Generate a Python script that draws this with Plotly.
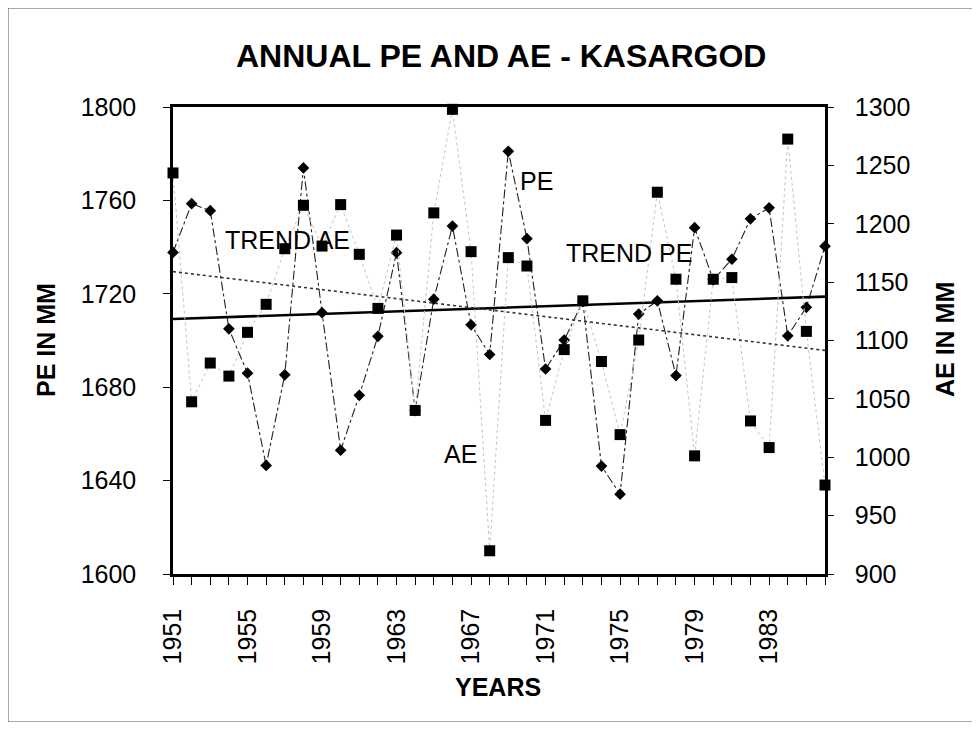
import plotly.graph_objects as go

years = list(range(1951, 1987))
pe = [1737.7, 1758.6, 1755.6, 1705.0, 1686.0, 1646.5, 1685.3, 1773.9, 1711.9, 1653.0,
      1676.5, 1701.8, 1737.6, 1670.0, 1717.7, 1749.0, 1706.7, 1694.0, 1781.0, 1743.6,
      1687.8, 1700.2, 1716.7, 1646.2, 1634.2, 1711.3, 1717.0, 1685.0, 1748.3, 1726.0,
      1734.8, 1752.1, 1756.8, 1702.0, 1714.2, 1740.4]
ae = [1243.5, 1047.5, 1080.7, 1069.5, 1107.0, 1131.0, 1178.6, 1215.8, 1180.9, 1216.4,
      1173.8, 1127.5, 1190.3, 1040.1, 1209.3, 1298.0, 1176.1, 919.9, 1171.0, 1163.8,
      1031.6, 1092.2, 1134.0, 1082.0, 1019.4, 1100.4, 1227.0, 1152.5, 1001.2, 1152.5,
      1153.9, 1031.1, 1008.3, 1272.5, 1107.8, 976.2]
trend_years = [1951, 1986]
trend_pe = [1709.2, 1718.8]
trend_ae = [1159.0, 1091.5]
x_tick_labels = [str(y) if (y - 1951) % 4 == 0 and y <= 1983 else "" for y in years]
pe_ticks = [1600, 1640, 1680, 1720, 1760, 1800]
ae_ticks = [900, 950, 1000, 1050, 1100, 1150, 1200, 1250, 1300]

FONT = "Liberation Sans, Arial, sans-serif"

# page has an 8px body margin; work in reference pixel coordinates
OFF = 8
W, H = 964, 714
L, R, T, B = 173 - OFF, 825 - OFF, 107 - OFF, 574 - OFF
def px(x): return (x - OFF - L) / (R - L)
def py(y): return (B - (y - OFF)) / (B - T)

fig = go.Figure()
fig.add_trace(go.Scatter(x=years, y=ae, yaxis="y2", mode="lines+markers",
                         line=dict(color="#c4c4c4", width=1, dash="dot"),
                         marker=dict(symbol="square", size=11, color="black"),
                         cliponaxis=False, name="AE"))
fig.add_trace(go.Scatter(x=years, y=pe, mode="lines+markers",
                         line=dict(color="#222222", width=1.1, dash="dashdot"),
                         marker=dict(symbol="diamond", size=9, color="black"),
                         cliponaxis=False, name="PE"))
fig.add_trace(go.Scatter(x=trend_years, y=trend_pe, mode="lines",
                         line=dict(color="black", width=2.6), name="TREND PE"))
fig.add_trace(go.Scatter(x=trend_years, y=trend_ae, yaxis="y2", mode="lines",
                         line=dict(color="#333333", width=1.6, dash="dot"), name="TREND AE"))

ann = []
def add(text, x, y, size, bold=False, angle=0):
    ann.append(dict(text=f"<b>{text}</b>" if bold else text, x=px(x), y=py(y),
                    xref="paper", yref="paper", showarrow=False, textangle=angle,
                    xanchor="center", yanchor="middle",
                    font=dict(family=FONT, size=size, color="black")))

add("ANNUAL PE AND AE - KASARGOD", 501, 56, 32, bold=True)
add("PE IN MM", 46, 340, 25, bold=True, angle=-90)
add("AE IN MM", 945, 340, 25, bold=True, angle=-90)
add("YEARS", 498, 687, 25, bold=True)
add("TREND AE", 287, 240, 25)
add("TREND PE", 629, 253, 25)
add("PE", 536, 181, 25)
add("AE", 460, 454, 25)

fig.update_layout(
    width=W, height=H, autosize=False,
    margin=dict(l=L, r=W - R, t=T, b=H - B, pad=0),
    paper_bgcolor="white", plot_bgcolor="white",
    showlegend=False,
    font=dict(family=FONT, size=25, color="black"),
    annotations=ann,
    xaxis=dict(range=[1951, 1986], tickmode="array", tickvals=years, ticktext=x_tick_labels,
               tickangle=-90, ticks="outside", ticklen=8, tickwidth=1, tickcolor="black",
               showline=True, linewidth=2.5, linecolor="black", mirror=True,
               showgrid=False, zeroline=False, ticklabelstandoff=14,
               tickfont=dict(family=FONT, size=25)),
    yaxis=dict(range=[1600, 1800], tickmode="array", tickvals=pe_ticks,
               ticks="outside", ticklen=7, tickwidth=1, tickcolor="black",
               showline=True, linewidth=2.5, linecolor="black",
               showgrid=False, zeroline=False, ticklabelstandoff=22,
               tickfont=dict(family=FONT, size=25)),
    yaxis2=dict(range=[900, 1300], tickmode="array", tickvals=ae_ticks, overlaying="y",
                side="right", ticks="outside", ticklen=6, tickwidth=1, tickcolor="black",
                showline=True, linewidth=2.5, linecolor="black",
                showgrid=False, zeroline=False, ticklabelstandoff=16,
                tickfont=dict(family=FONT, size=25)),
    shapes=[dict(type="rect", xref="paper", yref="paper",
                 x0=px(8), x1=px(974), y0=py(722), y1=py(8),
                 line=dict(color="#555555", width=1))],
)

fig.write_html("out.html")
